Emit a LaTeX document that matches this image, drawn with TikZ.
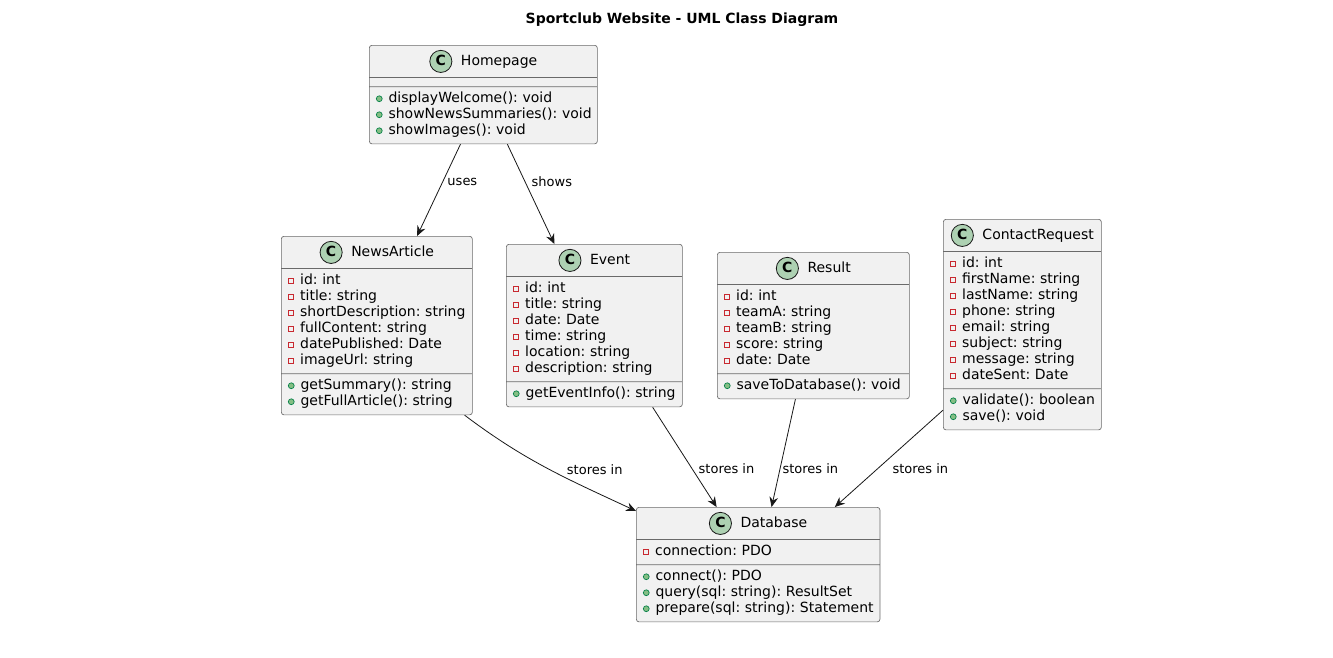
\documentclass[tikz,border=0pt]{standalone}
\usepackage{fontspec}
\setmainfont{DejaVu Sans}
\usetikzlibrary{positioning,calc,shapes.multipart,arrows.meta}

\definecolor{boxfill}{HTML}{F1F1F1}
\definecolor{boxline}{HTML}{181818}
\definecolor{boxedge}{HTML}{6A6A6A}
\definecolor{iconfill}{HTML}{ADD1B2}
\definecolor{privred}{HTML}{C82930}
\definecolor{pubfill}{HTML}{84BE84}
\definecolor{publine}{HTML}{038048}

% class icon and member markers
\newcommand{\cicon}{\raisebox{-5.2pt}{\tikz\filldraw[fill=iconfill, draw=boxline, line width=0.6pt, sharp corners] (0,0) circle (8.3pt);}\hspace{-17.2pt}\makebox[17.2pt]{\bfseries C}\hspace{6.5pt}}
\newcommand{\chead}[1]{\makebox[\hsize][c]{\cicon #1}}
\newcommand{\priv}[1]{\mbox{\raisebox{0.6pt}{\tikz[baseline=0pt]\draw[privred, line width=0.6pt, sharp corners] (0,0) rectangle (4pt,4pt);}\hspace{4.5pt}#1}\strut}
\newcommand{\pub}[1]{\mbox{\tikz[baseline=0pt]\filldraw[draw=publine, fill=pubfill, line width=0.5pt, sharp corners] (2.2pt,2.8pt) circle (2.2pt);\hspace{4.5pt}#1}\strut}

\begin{document}
\frenchspacing
\begin{tikzpicture}[
  x=0.75pt, y=-0.75pt,
  cls/.style={rectangle split, rectangle split parts=3, draw=boxedge, fill=boxfill,
              line width=0.5pt, rounded corners=2pt, text width=#1, align=left,
              inner xsep=5pt, inner ysep=3.2pt, anchor=north west,
              font=\fontsize{10.5}{12}\selectfont\frenchspacing},
  arr/.style={-{Stealth[length=7.5pt, width=6.5pt, inset=2.5pt]}, draw=boxline, line width=0.6pt},
  lab/.style={font=\fontsize{9.75}{11}\selectfont, inner sep=0pt}
]
\path[use as bounding box, fill=white] (0,0) rectangle (1333,657);

%% title
\node[font=\fontsize{10.5}{12}\selectfont\bfseries] (title) at (682,20) {Sportclub Website - UML Class Diagram};

%% classes
\node[cls=161pt] (hp) at (369,45) {\chead{Homepage}
  \nodepart{two}
  \nodepart{three}\pub{displayWelcome(): void}\\\pub{showNewsSummaries(): void}\\\pub{showImages(): void}};

\node[cls=133.25pt] (news) at (281,236) {\chead{NewsArticle}
  \nodepart{two}\priv{id: int}\\\priv{title: string}\\\priv{shortDescription: string}\\\priv{fullContent: string}\\\priv{datePublished: Date}\\\priv{imageUrl: string}
  \nodepart{three}\pub{getSummary(): string}\\\pub{getFullArticle(): string}};

\node[cls=122pt] (event) at (506,244) {\chead{Event}
  \nodepart{two}\priv{id: int}\\\priv{title: string}\\\priv{date: Date}\\\priv{time: string}\\\priv{location: string}\\\priv{description: string}
  \nodepart{three}\pub{getEventInfo(): string}};

\node[cls=134pt] (result) at (717,252) {\chead{Result}
  \nodepart{two}\priv{id: int}\\\priv{teamA: string}\\\priv{teamB: string}\\\priv{score: string}\\\priv{date: Date}
  \nodepart{three}\pub{saveToDatabase(): void}};

\node[cls=108.5pt] (cr) at (943,219) {\chead{ContactRequest}
  \nodepart{two}\priv{id: int}\\\priv{firstName: string}\\\priv{lastName: string}\\\priv{phone: string}\\\priv{email: string}\\\priv{subject: string}\\\priv{message: string}\\\priv{dateSent: Date}
  \nodepart{three}\pub{validate(): boolean}\\\pub{save(): void}};

\node[cls=172.7pt] (db) at (636,507) {\chead{Database}
  \nodepart{two}\priv{connection: PDO}
  \nodepart{three}\pub{connect(): PDO}\\\pub{query(sql: string): ResultSet}\\\pub{prepare(sql: string): Statement}};

%% edges
\draw[arr] ($(hp.south west)!.40!(hp.south east)$) -- node[lab, pos=.41, right=3.3pt] {uses} ($(news.north west)!.71!(news.north east)$);
\draw[arr] ($(hp.south west)!.605!(hp.south east)$) -- node[lab, pos=.376, right=4.7pt] {shows} ($(event.north west)!.274!(event.north east)$);
\draw[arr] ($(news.south west)!.958!(news.south east)$) to[out=-37, in=155] node[lab, pos=.62, anchor=south west, yshift=2.5pt] {stores in} ($(db.north west)+(0,4)$);
\draw[arr] ($(event.south west)!.83!(event.south east)$) -- node[lab, pos=.62, right=4.5pt] {stores in} ($(db.north west)!.33!(db.north east)$);
\draw[arr] ($(result.south west)!.407!(result.south east)$) -- node[lab, pos=.64, right=1.5pt] {stores in} ($(db.north west)!.555!(db.north east)$);
\draw[arr] ($(cr.north west)!.905!(cr.south west)$) -- node[lab, pos=.6, right=10.5pt] {stores in} ($(db.north west)!.814!(db.north east)$);
\end{tikzpicture}
\end{document}
